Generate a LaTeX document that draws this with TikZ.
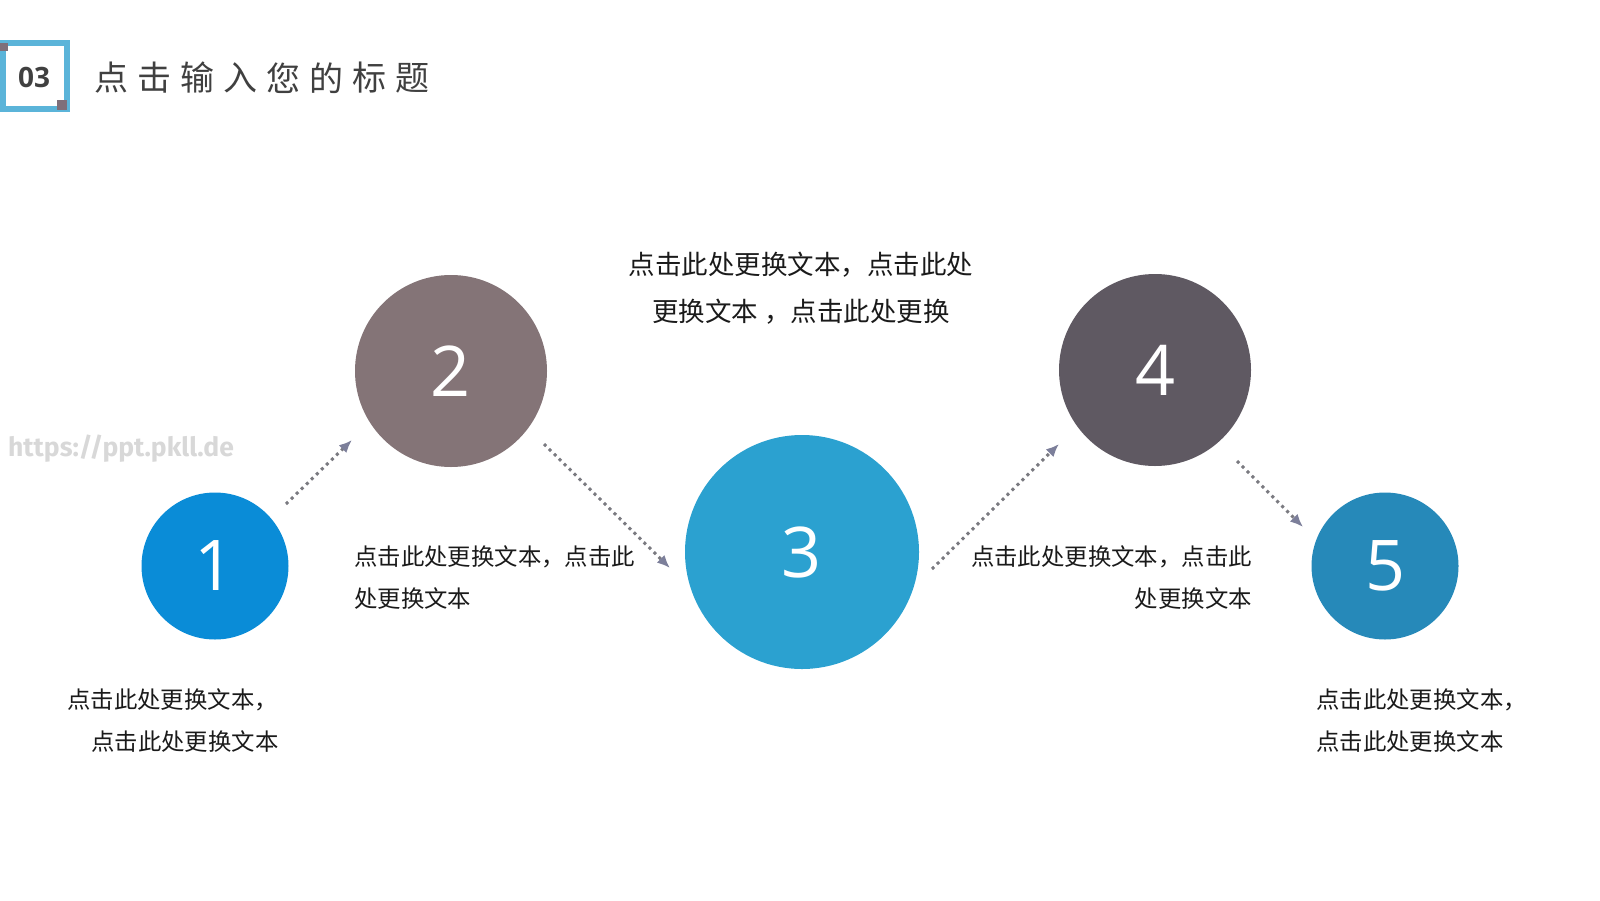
\documentclass[tikz,border=0pt]{standalone}
\usepackage{fontspec}
\setmainfont{Open Sans}
\newfontfamily\cjk{Noto Sans CJK SC}
\newfontfamily\wmfont{Fira Sans}
\usepackage{xcolor}
\usetikzlibrary{arrows.meta}
\usetikzlibrary{calc, math}

\definecolor{boxblue}{HTML}{5BB4D9}
\definecolor{boxmauve}{HTML}{7F6F7A}
\definecolor{titlegrey}{HTML}{404040}
\definecolor{bodytext}{HTML}{1A1A1A}
\definecolor{dotgrey}{HTML}{7A7A80}
\definecolor{tipgrey}{HTML}{7C7F9A}
\definecolor{wmgrey}{HTML}{D8D8D8}
\definecolor{stepone}{HTML}{0A8CD7}
\definecolor{steptwo}{HTML}{847477}
\definecolor{stepthree}{HTML}{2BA1D0}
\definecolor{stepfour}{HTML}{5F5962}
\definecolor{stepfive}{HTML}{2689B9}

\tikzset{
  stepcirc/.style={circle, inner sep=0pt, text=white, font=\fontsize{70}{70}\selectfont},
  dotarrow/.style={draw=dotgrey, line width=3pt, dash pattern=on 3pt off 4pt,
    -{Latex[length=13pt, width=11pt, color=tipgrey]}},
  body/.style={inner sep=0pt, text=bodytext, font=\cjk\fontsize{23.4}{23.4}\selectfont},
  bigbody/.style={body, font=\cjk\fontsize{26.5}{26.5}\selectfont},
}

\begin{document}
\begin{tikzpicture}[x=1pt, y=-1pt]
\useasboundingbox (0,0) rectangle (1600,900);

% header
\draw[boxblue, line width=6pt] (3,43) rectangle (67,109);
\fill[boxmauve] (0,43) rectangle (8,51);
\fill[boxmauve] (57,100) rectangle (67,110);
\node[text=titlegrey, font=\bfseries\fontsize{28}{28}\selectfont] (num) at (34,77) {03};
\foreach \ch [count=\i] in {点,击,输,入,您,的,标,题}{
  \node[inner sep=0pt, text=titlegrey, font=\cjk\fontsize{34}{34}\selectfont] (t\i) at (111+43*\i-43,78) {\ch};
}

% watermark
\node[anchor=west, inner sep=0pt, text=wmgrey, font=\wmfont\bfseries\fontsize{26.5}{26.5}\selectfont] (wm) at (8,449) {https://ppt.pkll.de};

% steps
\node[stepcirc, fill=stepone, minimum size=147pt] (c1) at (215,566) {1};
\node[stepcirc, fill=steptwo, minimum size=192pt] (c2) at (451,371) {2};
\node[stepcirc, fill=stepthree, minimum size=234pt] (c3) at (802,552) {3};
\node[stepcirc, fill=stepfour, minimum size=192pt] (c4) at (1155,370) {4};
\node[stepcirc, fill=stepfive, minimum size=147pt] (c5) at (1385,566) {5};

% arrows
\coordinate (a1s) at ($(c1)+(71,-62)$);
\coordinate (a1e) at ($(c2)+(-99,69)$);
\coordinate (a2s) at ($(c2)+(93,73)$);
\coordinate (a2e) at ($(c3)+(-132,16)$);
\coordinate (a3s) at ($(c3)+(130,17)$);
\coordinate (a3e) at ($(c4)+(-96,74)$);
\coordinate (a4s) at ($(c4)+(82,91)$);
\coordinate (a4e) at ($(c5)+(-82,-39)$);
\draw[dotarrow] (a1s) -- (a1e);
\draw[dotarrow] (a2s) -- (a2e);
\draw[dotarrow] (a3s) -- (a3e);
\draw[dotarrow] (a4s) -- (a4e);

% texts
\node[body, anchor=west] (d1a) at (67,700) {点击此处更换文本，};
\node[body, anchor=west] (d1b) at (91,742) {点击此处更换文本};
\node[body, anchor=west] (d2a) at (354,557) {点击此处更换文本，点击此};
\node[body, anchor=west] (d2b) at (354,599) {处更换文本};
\node[bigbody] (d3a) at (801,265) {点击此处更换文本，点击此处};
\node[bigbody] (d3b) at (801,312) {更换文本 ，点击此处更换};
\node[body, anchor=east] (d4a) at (1252,557) {点击此处更换文本，点击此};
\node[body, anchor=east] (d4b) at (1252,599) {处更换文本};
\node[body, anchor=west] (d5a) at (1316,700) {点击此处更换文本，};
\node[body, anchor=west] (d5b) at (1316,742) {点击此处更换文本};
\end{tikzpicture}
\end{document}
